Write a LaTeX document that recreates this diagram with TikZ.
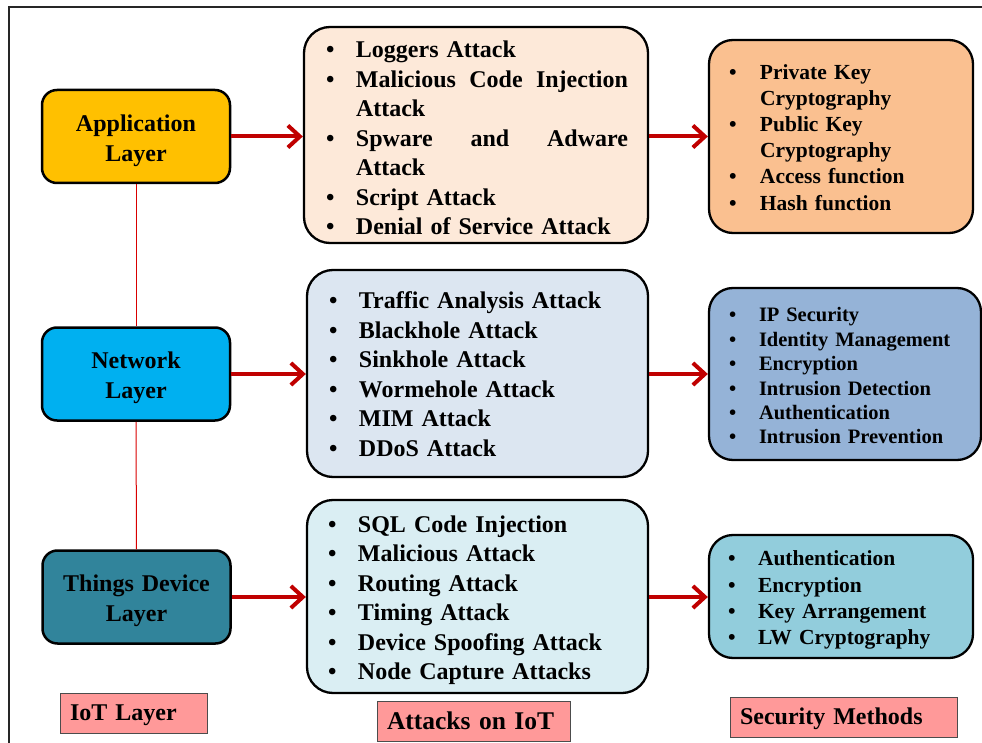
\documentclass[tikz,border=0pt]{standalone}
\usepackage{fontspec}
\setmainfont{Liberation Serif}
\usetikzlibrary{arrows.meta}

\definecolor{appfill}{HTML}{FFC000}
\definecolor{netfill}{HTML}{00B0F0}
\definecolor{devfill}{HTML}{31849B}
\definecolor{appatkfill}{HTML}{FDE9D9}
\definecolor{netatkfill}{HTML}{DCE6F1}
\definecolor{devatkfill}{HTML}{DAEEF3}
\definecolor{appsecfill}{HTML}{FAC090}
\definecolor{netsecfill}{HTML}{95B3D7}
\definecolor{devsecfill}{HTML}{92CDDC}
\definecolor{capfill}{HTML}{FF9999}
\definecolor{arrowred}{HTML}{C00000}

% bullet of a given width, then the item text
\newcommand{\bul}[1]{\makebox[#1][l]{\textbullet}}
% a line spread out over the given width
\newcommand{\spread}[2]{\hbox to #1{#2}}

\begin{document}
\begin{tikzpicture}[x=1pt,y=-1pt,
    firstline/.style={execute at begin node={\rule{0pt}{#1}}},
    layer/.style={draw, line width=2.5pt, rounded corners=15pt, minimum width=188pt,
      minimum height=93pt, inner xsep=10pt, text width=168pt, align=center,
      firstline=24.5pt, font=\fontsize{24}{30}\selectfont\bfseries},
    list/.style={draw, line width=2.3pt, rounded corners=26pt, align=left, inner ysep=0pt,
      font=\fontsize{24}{29.5}\selectfont\bfseries},
    seclist/.style={list, rounded corners=24pt},
    caption/.style={draw=black!70, line width=0.8pt, fill=capfill, minimum height=40pt,
      inner xsep=10pt, align=left, font=\fontsize{24}{28}\selectfont\bfseries},
    link/.style={red!85!black, line width=1pt},
    arr/.style={arrowred, line width=4pt, -{Straight Barb[length=12pt,width=22pt]}}]
  \useasboundingbox (0,0) rectangle (982,743);
  \draw[line width=1.5pt, black!85] (9,743) -- (9,7) -- (982,7);

  % IoT layers
  \node[layer, fill=appfill] (applayer) at (136,136.5) {Application\\Layer};
  \node[layer, fill=netfill] (netlayer) at (136,374) {Network\\Layer};
  \node[layer, fill=devfill] (devlayer) at (136.5,597) {Things Device\\Layer};
  \draw[link] (applayer.south) -- (netlayer.north);
  \draw[link] (netlayer.south) -- (devlayer.north);

  % attacks
  \node[list, fill=appatkfill, minimum width=344pt, minimum height=216pt, firstline=22.5pt,
    inner xsep=22pt, text width=300pt] (appatk) at (476,135) {%
    \bul{30pt}Loggers Attack\\
    \bul{30pt}\spread{272pt}{Malicious\hfill Code\hfill Injection}\\
    \hspace*{30pt}Attack\\
    \bul{30pt}\spread{272pt}{Spware\hfill and\hfill Adware}\\
    \hspace*{30pt}Attack\\
    \bul{30pt}Script Attack\\
    \bul{30pt}Denial of Service Attack};
  \node[list, fill=netatkfill, minimum width=341pt, minimum height=207pt, firstline=18.5pt,
    inner xsep=22pt, text width=297pt] (netatk) at (477.5,373.5) {%
    \bul{30pt}Traffic Analysis Attack\\
    \bul{30pt}Blackhole Attack\\
    \bul{30pt}Sinkhole Attack\\
    \bul{30pt}Wormehole Attack\\
    \bul{30pt}MIM Attack\\
    \bul{30pt}DDoS Attack};
  \node[list, fill=devatkfill, minimum width=341pt, minimum height=193pt, firstline=24.5pt,
    inner xsep=21pt, text width=299pt] (devatk) at (477.5,596.5) {%
    \bul{30pt}SQL Code Injection\\
    \bul{30pt}Malicious Attack\\
    \bul{30pt}Routing Attack\\
    \bul{30pt}Timing Attack\\
    \bul{30pt}Device Spoofing Attack\\
    \bul{30pt}Node Capture Attacks};

  % security methods
  \node[seclist, fill=appsecfill, minimum width=264pt, minimum height=193pt, firstline=16.6pt,
    inner xsep=20pt, text width=224pt, font=\fontsize{21.5}{26.2}\selectfont\bfseries]
    (appsec) at (841,136.5) {%
    \bul{31pt}Private Key\\
    \hspace*{31pt}Cryptography\\
    \bul{31pt}Public Key\\
    \hspace*{31pt}Cryptography\\
    \bul{31pt}Access function\\
    \bul{31pt}Hash function};
  \node[seclist, fill=netsecfill, minimum width=272pt, minimum height=172pt, firstline=18pt,
    inner xsep=20pt, text width=232pt, font=\fontsize{20.5}{24.4}\selectfont\bfseries]
    (netsec) at (845,374) {%
    \bul{30pt}IP Security\\
    \bul{30pt}Identity Management\\
    \bul{30pt}Encryption\\
    \bul{30pt}Intrusion Detection\\
    \bul{30pt}Authentication\\
    \bul{30pt}Intrusion Prevention};
  \node[seclist, fill=devsecfill, minimum width=264pt, minimum height=123pt, firstline=22.6pt,
    inner xsep=19pt, text width=226pt, font=\fontsize{21.5}{26.3}\selectfont\bfseries]
    (devsec) at (841,596.5) {%
    \bul{30pt}Authentication\\
    \bul{30pt}Encryption\\
    \bul{30pt}Key Arrangement\\
    \bul{30pt}LW Cryptography};

  % arrows between the columns
  \draw[arr] (applayer.east) -- (applayer.east -| appatk.west);
  \draw[arr] (netlayer.east) -- (netlayer.east -| netatk.west);
  \draw[arr] (devlayer.east) -- (devlayer.east -| devatk.west);
  \draw[arr] (appatk.east |- applayer.east) -- (applayer.east -| appsec.west);
  \draw[arr] (netatk.east |- netlayer.east) -- (netlayer.east -| netsec.west);
  \draw[arr] (devatk.east |- devlayer.east) -- (devlayer.east -| devsec.west);

  % column captions
  \node[caption, text width=127pt, firstline=20pt] (capiot) at (133.5,713) {IoT Layer};
  \node[caption, text width=173pt, font=\fontsize{25.5}{28}\selectfont\bfseries]
    (capatk) at (473.5,721) {Attacks on IoT};
  \node[caption, text width=207pt, firstline=21pt] (capsec) at (843.5,717) {Security Methods};
\end{tikzpicture}
\end{document}
